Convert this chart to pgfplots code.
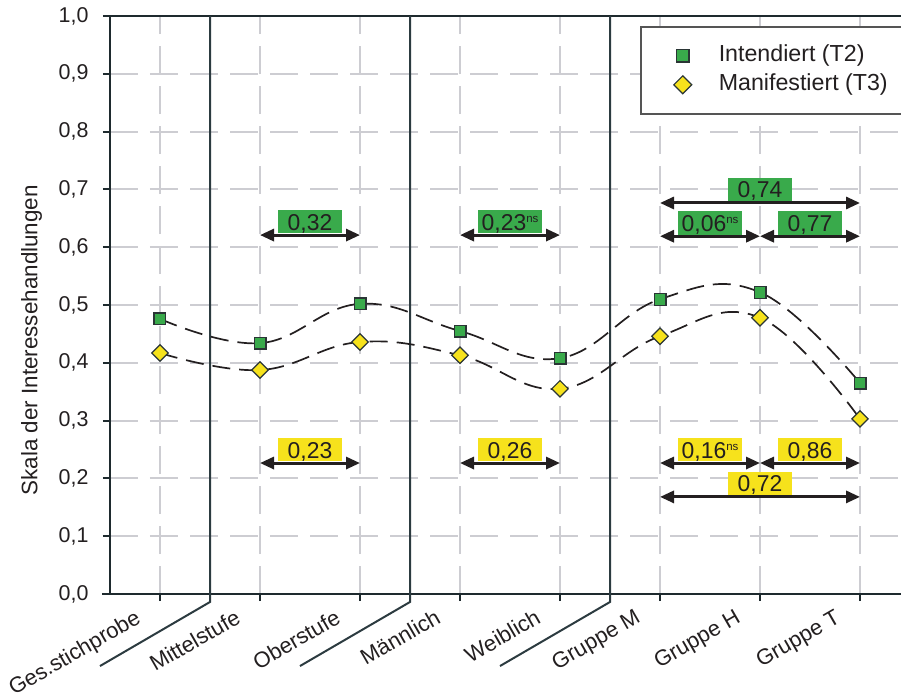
\documentclass[border=0pt]{standalone}
\usepackage{fontspec}
\setmainfont{Liberation Sans}
\usepackage{pgfplots}
\pgfplotsset{compat=1.18}
\usetikzlibrary{arrows.meta}
\definecolor{ink}{HTML}{231F20}
\definecolor{frame}{HTML}{1E2A2E}
\definecolor{sep}{HTML}{2C3B40}
\definecolor{grn}{HTML}{39AA4B}
\definecolor{ylw}{HTML}{F6E21C}
\definecolor{gridc}{HTML}{CDCDD2}
\definecolor{mk}{HTML}{2A3535}
\definecolor{legc}{HTML}{555555}
\tikzset{
  lab/.style={minimum width=64bp, text height=16.5bp, text depth=0bp, inner ysep=3.3bp, inner xsep=0bp, anchor=south, yshift=1.5bp, font=\fontsize{23}{27}\selectfont, text=ink},
  arr/.style={ink, line width=3bp, {Triangle[length=14bp,width=12bp]}-{Triangle[length=14bp,width=12bp]}},
}
\newcommand{\ns}{\raisebox{7.5bp}{\fontsize{11.5}{12}\selectfont ns}}
\begin{document}
\begin{tikzpicture}
\begin{axis}[
  x=100bp, y=578bp,
  xmin=-0.5, xmax=7.5, ymin=0, ymax=1,
  axis line style={draw=none},
  clip=false,
  xtick={0,1,2,3,4,5,6,7},
  xticklabels={Ges.stichprobe, Mittelstufe, Oberstufe, Männlich, Weiblich, Gruppe M, Gruppe H, Gruppe T},
  ytick={0,0.1,0.2,0.3,0.4,0.5,0.6,0.7,0.8,0.9,1},
  tick pos=left,
  tick align=outside,
  major tick length=7bp,
  tick style={frame, line width=2bp},
  grid=major,
  grid style={gridc, line width=2bp, dash pattern=on 28bp off 12bp},
  /pgf/number format/assume math mode=true,
  yticklabel style={/pgf/number format/fixed, /pgf/number format/fixed zerofill, /pgf/number format/precision=1, /pgf/number format/use comma, xshift=-11bp, font=\fontsize{21.5}{25}\selectfont},
  tick label style={text=ink},
  xticklabel style={rotate=30, anchor=north east, inner sep=0pt, xshift=-26bp, yshift=7bp, font=\fontsize{22}{26}\selectfont},
  ylabel={Skala der Interessehandlungen},
  ylabel style={at={(rel axis cs:-0.098,0.439)}, anchor=center, font=\fontsize{22.5}{26}\selectfont, text=ink},
  legend style={at={(axis description cs:0.6625,0.9827)}, anchor=north west, draw=legc, line width=1.5bp,
    inner xsep=0bp, inner ysep=18.5bp, row sep=8bp, column sep=0bp,
    nodes={inner sep=0pt, text height=16bp, text depth=5bp, font=\fontsize{23.3}{27}\selectfont, text=ink}},
  legend cell align=left,
  legend image code/.code={\path[draw=none,fill=none] (0bp,-8bp) rectangle (78bp,8bp); \draw[#1, only marks, mark size=6.3bp] plot coordinates {(42bp,0bp)};},
]
% frame
\draw[frame, line width=2bp] (axis cs:-0.58,0) -- (axis cs:7.6,0);
\draw[frame, line width=2bp] (axis cs:-0.5,0) -- (axis cs:-0.5,1) -- (axis cs:7.6,1);
% separators
\draw[sep, line width=2bp] (axis cs:0.5,1) -- (axis cs:0.5,-0.0138) -- (axis cs:-0.6,-0.1246);
\draw[sep, line width=2bp] (axis cs:2.5,1) -- (axis cs:2.5,-0.0138) -- (axis cs:1.4,-0.1246);
\draw[sep, line width=2bp] (axis cs:4.5,1) -- (axis cs:4.5,-0.0138) -- (axis cs:3.4,-0.1246);
\addplot[ink, line width=1.7bp, dash pattern=on 18bp off 9bp, smooth, tension=0.7,
  mark=square*, mark size=5.9bp, mark options={solid, fill=grn, draw=mk, line width=1.2bp}]
  coordinates {(0,0.476) (1,0.434) (2,0.502) (3,0.455) (4,0.408) (5,0.510) (6,0.522) (7,0.365)};
\addlegendentry{\makebox[215bp][l]{Intendiert (T2)}}
\addplot[ink, line width=1.7bp, dash pattern=on 18bp off 9bp, smooth, tension=0.7,
  mark=square*, mark size=5.8bp, mark options={solid, rotate=45, fill=ylw, draw=mk, line width=1.2bp}]
  coordinates {(0,0.417) (1,0.3875) (2,0.436) (3,0.413) (4,0.355) (5,0.446) (6,0.478) (7,0.303)};
\addlegendentry{\makebox[215bp][l]{Manifestiert (T3)}}
% green annotations
\draw[arr] (axis cs:1,0.621) -- (axis cs:2,0.621);
\node[lab, fill=grn] at (axis cs:1.5,0.621) {0,32};
\draw[arr] (axis cs:3,0.621) -- (axis cs:4,0.621);
\node[lab, fill=grn] at (axis cs:3.5,0.621) {0,23\ns};
\draw[arr] (axis cs:5,0.6765) -- (axis cs:7,0.6765);
\node[lab, fill=grn] at (axis cs:6,0.6765) {0,74};
\draw[arr] (axis cs:5,0.619) -- (axis cs:6,0.619);
\node[lab, fill=grn] at (axis cs:5.5,0.619) {0,06\ns};
\draw[arr] (axis cs:6,0.619) -- (axis cs:7,0.619);
\node[lab, fill=grn] at (axis cs:6.5,0.619) {0,77};
% yellow annotations
\draw[arr] (axis cs:1,0.2266) -- (axis cs:2,0.2266);
\node[lab, fill=ylw] at (axis cs:1.5,0.2266) {0,23};
\draw[arr] (axis cs:3,0.2266) -- (axis cs:4,0.2266);
\node[lab, fill=ylw] at (axis cs:3.5,0.2266) {0,26};
\draw[arr] (axis cs:5,0.2266) -- (axis cs:6,0.2266);
\node[lab, fill=ylw] at (axis cs:5.5,0.2266) {0,16\ns};
\draw[arr] (axis cs:6,0.2266) -- (axis cs:7,0.2266);
\node[lab, fill=ylw] at (axis cs:6.5,0.2266) {0,86};
\draw[arr] (axis cs:5,0.168) -- (axis cs:7,0.168);
\node[lab, fill=ylw] at (axis cs:6,0.168) {0,72};
\coordinate (bl) at (axis cs:-1.6,-0.1696);
\coordinate (tr) at (axis cs:7.41,1.0277);
\end{axis}
\pgfresetboundingbox
\useasboundingbox (bl) rectangle (tr);
\end{tikzpicture}
\end{document}
